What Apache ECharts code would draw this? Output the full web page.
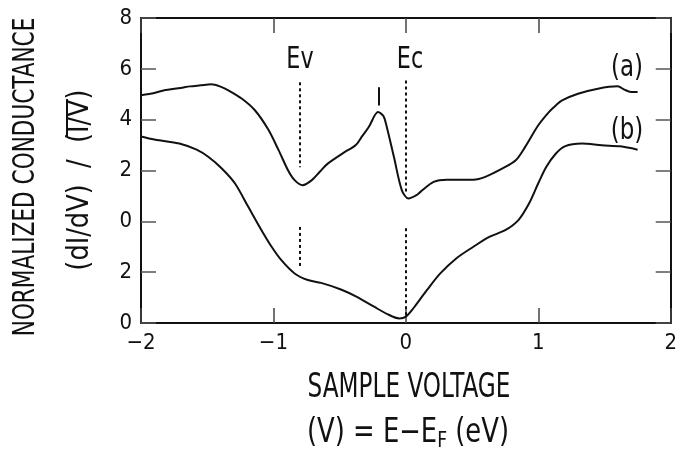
<!DOCTYPE html>
<html>
<head>
<meta charset="utf-8">
<script src="https://cdn.jsdelivr.net/npm/echarts@6/dist/echarts.min.js"></script>
<style>
html,body{margin:0;padding:0;background:#fff;}
#c{width:680px;height:450px;}
</style>
</head>
<body>
<div id="c"></div>
<script>
// ---- data ----
const xTickValues = [-2, -1, 0, 1, 2];
const yTickLabels = ["0", "2", "0", "2", "4", "6", "8"]; // plotted at 0,2,4,...,12
const A_OFFSET = 4; // curve (a) is shifted up by 4 units

const aX = [-2.00,-1.90,-1.83,-1.70,-1.63,-1.55,-1.47,-1.40,-1.34,-1.24,-1.14,-1.04,-0.96,-0.89,-0.84,-0.78,-0.71,-0.65,-0.59,-0.46,-0.38,-0.33,-0.28,-0.21,-0.17,-0.15,-0.09,-0.03,0.02,0.08,0.11,0.21,0.31,0.51,0.60,0.73,0.83,0.90,1.00,1.08,1.13,1.18,1.30,1.45,1.60,1.65,1.70,1.75];
const aY = [4.96,5.05,5.15,5.25,5.31,5.35,5.39,5.30,5.15,4.83,4.37,3.62,2.79,2.01,1.62,1.42,1.62,1.95,2.27,2.73,2.99,3.35,3.71,4.30,4.15,3.84,2.53,1.22,0.90,1.03,1.16,1.55,1.64,1.64,1.75,2.08,2.40,2.92,3.78,4.30,4.55,4.76,5.02,5.22,5.31,5.18,5.09,5.09];

const bX = [-2.00,-1.90,-1.83,-1.71,-1.58,-1.49,-1.39,-1.29,-1.19,-1.09,-1.02,-0.94,-0.84,-0.74,-0.64,-0.49,-0.37,-0.24,-0.14,-0.05,0.00,0.06,0.16,0.26,0.38,0.51,0.63,0.75,0.85,0.93,1.00,1.06,1.13,1.20,1.33,1.48,1.62,1.75];
const bY = [7.34,7.22,7.16,7.06,6.82,6.53,6.08,5.49,4.57,3.65,3.05,2.47,1.95,1.69,1.58,1.32,1.03,0.64,0.35,0.18,0.25,0.60,1.30,1.95,2.54,3.00,3.39,3.65,4.05,4.70,5.50,6.14,6.65,6.95,7.06,6.99,6.95,6.82];

// annotation markers (x position, y from, y to) in plot units
const evX = -0.8, ecX = 0, peakX = -0.204;
const dashSegments = [
  [evX, 9.47, 6.13], [evX, 3.78, 2.21],
  [ecX, 9.54, 5.16], [ecX, 3.73, 0.20]
];
const peakTick = [peakX, 9.28, 8.56];

const FONT = "'Liberation Sans Narrow','DejaVu Sans Condensed','Roboto Condensed','Liberation Sans',sans-serif";
const INK = '#111';

const chart = echarts.init(document.getElementById('c'), null, {renderer: 'canvas'});

const aData = aX.map((x, i) => [x, aY[i] + A_OFFSET]);
const bData = bX.map((x, i) => [x, bY[i]]);

const dashLines = dashSegments.map(s => [{coord: [s[0], s[1]]}, {coord: [s[0], s[2]]}]);

function txt(x, y, text, size, sx, rot, extra) {
  const st = Object.assign({text: text, fill: INK, font: size + 'px ' + FONT, textAlign: 'center', textVerticalAlign: 'middle'}, extra || {});
  return {type: 'text', x: x, y: y, rotation: rot || 0, scaleX: sx, scaleY: 1, style: st};
}

const option = {
  backgroundColor: '#fff',
  animation: false,
  grid: {left: 141, right: 3, top: 18, bottom: 127, show: false},
  xAxis: [{
    type: 'value', min: -2, max: 2, interval: 1, position: 'bottom',
    axisLine: {show: true, onZero: false, lineStyle: {color: INK, width: 2}},
    axisTick: {show: true, inside: true, length: 15, lineStyle: {color: '#444', width: 1.5}},
    axisLabel: {show: true, margin: 9, color: INK, fontFamily: FONT, fontSize: 22,
      formatter: v => String(v).replace('-', '\u2212')},
    splitLine: {show: false}
  }, {
    type: 'value', min: -2, max: 2, interval: 1, position: 'top',
    axisLine: {show: true, onZero: false, lineStyle: {color: INK, width: 2}},
    axisTick: {show: true, inside: true, length: 15, lineStyle: {color: '#444', width: 1.5}},
    axisLabel: {show: false}, splitLine: {show: false}
  }],
  yAxis: [{
    type: 'value', min: 0, max: 12, interval: 2, position: 'left',
    axisLine: {show: true, onZero: false, lineStyle: {color: INK, width: 2}},
    axisTick: {show: true, inside: true, length: 15, lineStyle: {color: '#555', width: 1.5}},
    axisLabel: {show: true, margin: 9, color: INK, fontFamily: FONT, fontSize: 22,
      formatter: v => yTickLabels[Math.round(v / 2)]},
    splitLine: {show: false}
  }, {
    type: 'value', min: 0, max: 12, interval: 2, position: 'right',
    axisLine: {show: true, onZero: false, lineStyle: {color: INK, width: 2}},
    axisTick: {show: true, inside: true, length: 15, lineStyle: {color: '#555', width: 1.5}},
    axisLabel: {show: false}, splitLine: {show: false}
  }],
  series: [{
    name: '(a)', type: 'line', data: aData, showSymbol: false, smooth: 0.3,
    lineStyle: {color: INK, width: 2}, z: 3,
    markLine: {
      silent: true, symbol: ['none', 'none'], label: {show: false},
      lineStyle: {color: INK, type: [3, 3], width: 2},
      data: dashLines
    }
  }, {
    name: '(b)', type: 'line', data: bData, showSymbol: false, smooth: 0.3,
    lineStyle: {color: INK, width: 2}, z: 3,
    markLine: {
      silent: true, symbol: ['none', 'none'], label: {show: false},
      lineStyle: {color: INK, type: 'solid', width: 2},
      data: [[{coord: [peakTick[0], peakTick[1]]}, {coord: [peakTick[0], peakTick[2]]}]]
    }
  }],
  graphic: [
    txt(26, 177, 'NORMALIZED CONDUCTANCE', 30, 0.8, Math.PI / 2),
    txt(80, 180, '(dI/dV)  /  (I/V)', 30, 0.95, Math.PI / 2),
    {type: 'line', shape: {x1: 67, y1: 99, x2: 67, y2: 137}, style: {stroke: INK, lineWidth: 2}},
    txt(409, 388, 'SAMPLE VOLTAGE', 33, 0.78, 0),
    txt(408, 433, '(V) = E\u2212E{s|F} (eV)', 33, 0.87, 0,
      {rich: {s: {fontSize: 22, fontFamily: FONT, fill: INK, padding: [16, 0, 0, 0]}}}),
    txt(300, 60, 'Ev', 31, 0.8, 0),
    txt(410, 60, 'Ec', 31, 0.8, 0),
    txt(627, 68, '(a)', 30, 0.85, 0),
    txt(627, 131, '(b)', 30, 0.85, 0)
  ]
};
chart.setOption(option);
</script>
</body>
</html>
